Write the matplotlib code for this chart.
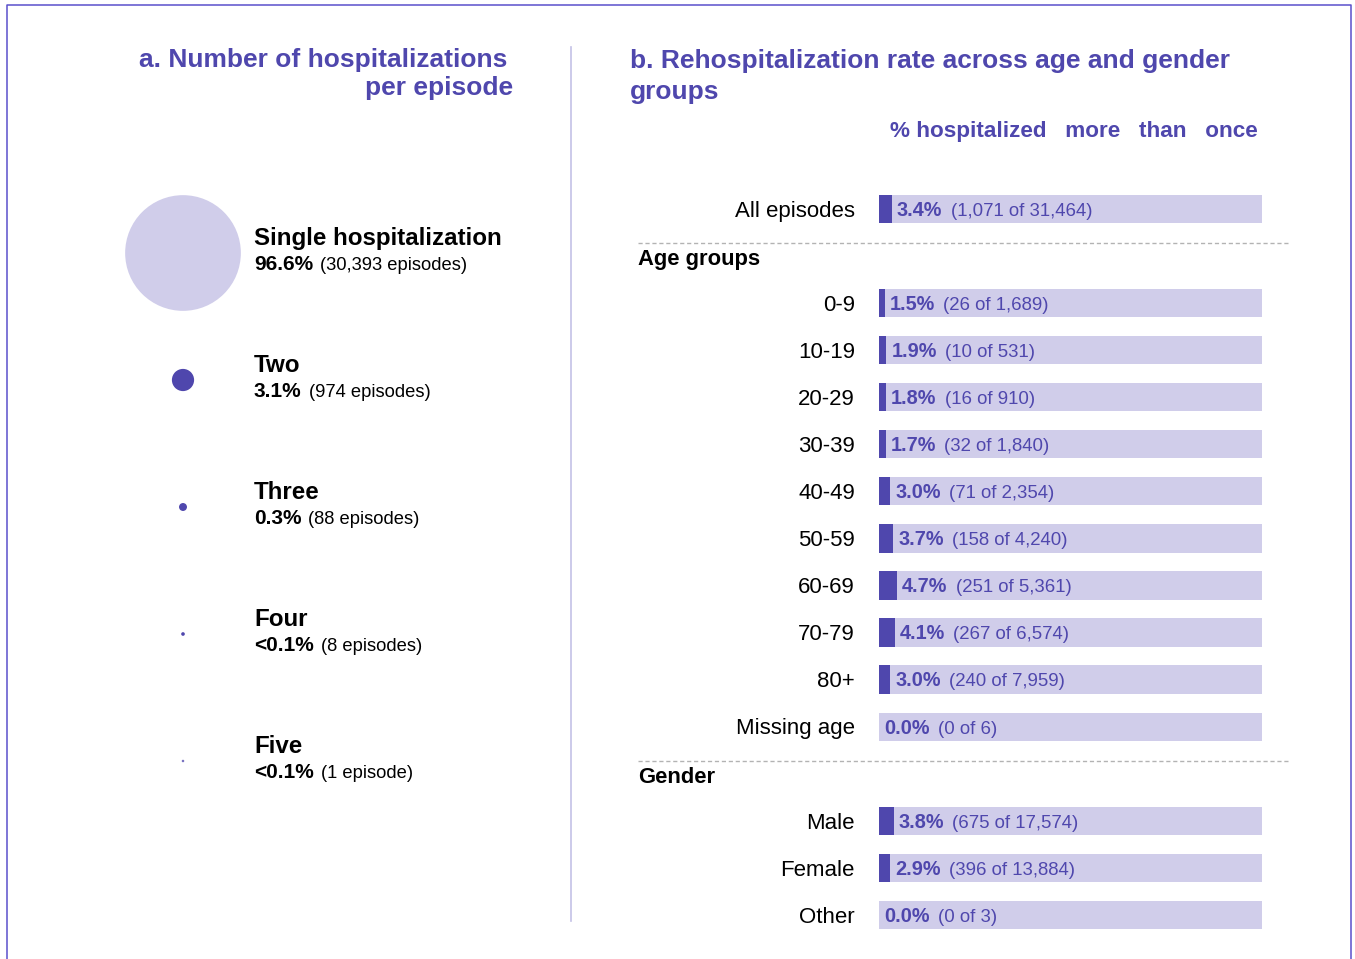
import numpy as np
import matplotlib
matplotlib.use('Agg')
import matplotlib.pyplot as plt
from matplotlib.lines import Line2D

plt.rcParams['font.family'] = ['Liberation Sans', 'DejaVu Sans']

# panel a data
episode_types = ['Single hospitalization', 'Two', 'Three', 'Four', 'Five']
episode_counts = [30393, 974, 88, 8, 1]
episode_pct = ['96.6%', '3.1%', '0.3%', '<0.1%', '<0.1%']

# panel b data
all_label = 'All episodes'
all_pct = 3.4
all_n = 1071
all_total = 31464

age_labels = ['0-9', '10-19', '20-29', '30-39', '40-49', '50-59', '60-69',
              '70-79', '80+', 'Missing age']
age_pct = [1.5, 1.9, 1.8, 1.7, 3.0, 3.7, 4.7, 4.1, 3.0, 0.0]
age_n = [26, 10, 16, 32, 71, 158, 251, 267, 240, 0]
age_total = [1689, 531, 910, 1840, 2354, 4240, 5361, 6574, 7959, 6]

gender_labels = ['Male', 'Female', 'Other']
gender_pct = [3.8, 2.9, 0.0]
gender_n = [675, 396, 0]
gender_total = [17574, 13884, 3]

DARK = '#4f47ad'
LIGHT = '#d0cdea'
W, H = 1355, 959

fig = plt.figure(figsize=(W / 100, H / 100), dpi=100)

# frame around the figure (no bottom edge)
fx = [6.5 / W, 6.5 / W, 1350.5 / W, 1350.5 / W]
fy = [0, 1 - 4.5 / H, 1 - 4.5 / H, 0]
fig.add_artist(Line2D(fx, fy, transform=fig.transFigure, color='#5a50cc', lw=1.1))
# divider between panels
fig.add_artist(Line2D([570.5 / W, 570.5 / W], [1 - 47 / H, 1 - 921 / H],
                      transform=fig.transFigure, color='#c4c1e6', lw=1.2))

# ---- panel a: bubbles ----
axL = fig.add_axes([0, 1 - 824.5 / H, 571 / W, 635 / H])
axL.set_xlim(0, 571)
axL.set_ylim(4.5, -0.5)
axL.axis('off')

ypos = np.arange(len(episode_types))
sizes = np.array(episode_counts) * (82 ** 2 / episode_counts[0])
cols = [LIGHT] + [DARK] * (len(episode_types) - 1)
axL.scatter(np.full(len(ypos), 183), ypos, s=sizes, c=cols, edgecolors=cols,
            linewidths=1.3, clip_on=False)

for i, (name, pct, cnt) in enumerate(zip(episode_types, episode_pct, episode_counts)):
    axL.text(254, i - 0.118, name, fontsize=17.4, fontweight='bold', va='center', ha='left')
    t = axL.text(254, i + 0.09, pct, fontsize=15, fontweight='bold', va='center', ha='left')
    word = 'episode' if cnt == 1 else 'episodes'
    axL.annotate(f'({cnt:,} {word})', xy=(1, 0), xycoords=t, xytext=(5, 0),
                 textcoords='offset points', fontsize=13.2, va='bottom', ha='left')

fig.text(507 / W, 1 - 60 / H, 'a. Number of hospitalizations', color=DARK,
         fontsize=19, fontweight='bold', ha='right', va='center')
fig.text(513 / W, 1 - 88 / H, 'per episode', color=DARK,
         fontsize=19, fontweight='bold', ha='right', va='center')

# ---- panel b: bars ----
axR = fig.add_axes([879 / W, 1 - 945 / H, 383 / W, 765 / H])
axR.set_xlim(0, 100)
axR.set_ylim(15.64, -0.616)
axR.axis('off')

labels = [all_label] + age_labels + gender_labels
pcts = [all_pct] + age_pct + gender_pct
ns = [all_n] + age_n + gender_n
totals = [all_total] + age_total + gender_total
rows = np.concatenate([[0], np.arange(2, 2 + len(age_labels)),
                       np.arange(3 + len(age_labels), 3 + len(age_labels) + len(gender_labels))])

axR.barh(rows, [100] * len(rows), height=0.6, color=LIGHT)
axR.barh(rows, pcts, height=0.6, color=DARK)

for r, lab, p, n, tot in zip(rows, labels, pcts, ns, totals):
    axR.text(-6.3, r + 0.05, lab, fontsize=16, ha='right', va='center', clip_on=False)
    t = axR.text(p + 1.3, r + 0.03, f'{p:.1f}%', fontsize=14.3, fontweight='bold',
                 color=DARK, ha='left', va='center')
    axR.annotate(f'({n:,} of {tot:,})', xy=(1, 0), xycoords=t, xytext=(6, 0),
                 textcoords='offset points', fontsize=13.4, color=DARK,
                 va='bottom', ha='left')

# section headers and dashed separators
axR.text(-62.9, 1.07, 'Age groups', fontsize=15.8, fontweight='bold', ha='left', va='center')
axR.text(-62.9, 12.09, 'Gender', fontsize=15.8, fontweight='bold', ha='left', va='center')
for y in [0.72, 11.74]:
    axR.plot([-62.9, 107.3], [y, y], ls=(0, (3, 2)), color='#b3b3b3', lw=1, clip_on=False)

fig.text(630 / W, 1 - 49 / H, 'b. Rehospitalization rate across age and gender\ngroups',
         color=DARK, fontsize=19, fontweight='bold', ha='left', va='top', linespacing=1.36)
fig.text(890 / W, 1 - 132 / H, '% hospitalized   more   than   once', color=DARK,
         fontsize=16.2, fontweight='bold', ha='left', va='center')

fig.savefig('out.png', dpi=100)
